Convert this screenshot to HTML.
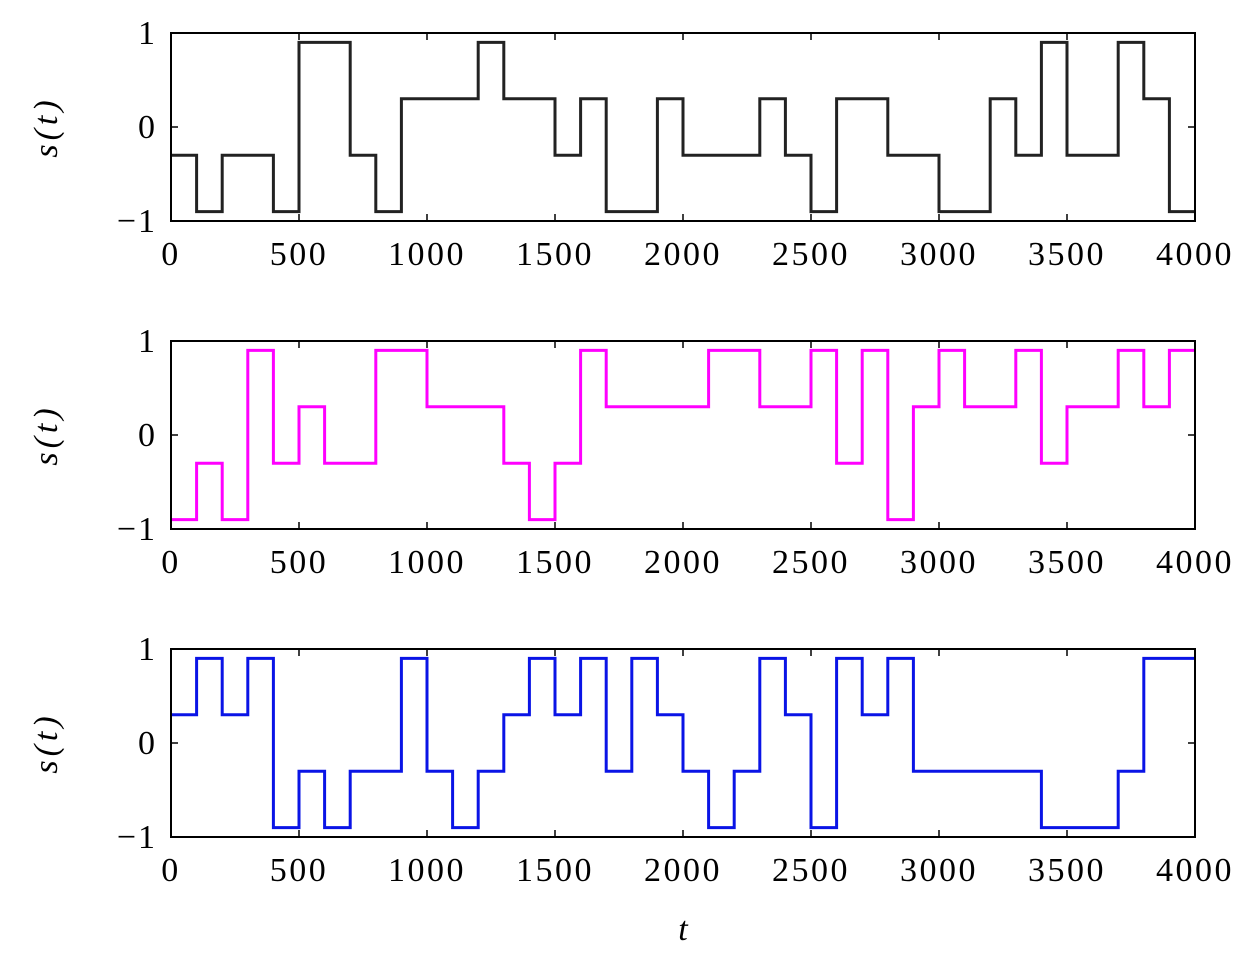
<!DOCTYPE html>
<html><head><meta charset="utf-8"><style>
body{margin:0;background:#fff}
svg{display:block}
text{font-family:"Liberation Serif",serif;font-size:34px;fill:#000}
</style></head><body>
<svg id="chart" width="1260" height="956" viewBox="0 0 1260 956" xmlns="http://www.w3.org/2000/svg"></svg>
<script>
const xTicks=[0,500,1000,1500,2000,2500,3000,3500,4000];
const yTicks=[-1,0,1];
const yTickLabels=["\u22121","0","1"];
const stepWidth=100;
const seriesBlack=[-0.3,-0.9,-0.3,-0.3,-0.9,0.9,0.9,-0.3,-0.9,0.3,0.3,0.3,0.9,0.3,0.3,-0.3,0.3,-0.9,-0.9,0.3,-0.3,-0.3,-0.3,0.3,-0.3,-0.9,0.3,0.3,-0.3,-0.3,-0.9,-0.9,0.3,-0.3,0.9,-0.3,-0.3,0.9,0.3,-0.9];
const seriesMagenta=[-0.9,-0.3,-0.9,0.9,-0.3,0.3,-0.3,-0.3,0.9,0.9,0.3,0.3,0.3,-0.3,-0.9,-0.3,0.9,0.3,0.3,0.3,0.3,0.9,0.9,0.3,0.3,0.9,-0.3,0.9,-0.9,0.3,0.9,0.3,0.3,0.9,-0.3,0.3,0.3,0.9,0.3,0.9];
const seriesBlue=[0.3,0.9,0.3,0.9,-0.9,-0.3,-0.9,-0.3,-0.3,0.9,-0.3,-0.9,-0.3,0.3,0.9,0.3,0.9,-0.3,0.9,0.3,-0.3,-0.9,-0.3,0.9,0.3,-0.9,0.9,0.3,0.9,-0.3,-0.3,-0.3,-0.3,-0.3,-0.9,-0.9,-0.9,-0.3,0.9,0.9];
const NS="http://www.w3.org/2000/svg";
const svg=document.getElementById('chart');
const X0=171,X1=1195,H=188;
const panels=[{top:33,data:seriesBlack,color:"#222",name:"top"},{top:341,data:seriesMagenta,color:"#ff00ff",name:"middle"},{top:649,data:seriesBlue,color:"#0a14e6",name:"bottom"}];
function mk(tag,attrs,parent){const e=document.createElementNS(NS,tag);for(const k in attrs)e.setAttribute(k,attrs[k]);(parent||svg).appendChild(e);return e;}
function xs(v){return X0+(v-0)/(4000-0)*(X1-X0);}
panels.forEach(p=>{
  const ys=v=>p.top+H-(v+1)/2*H;
  const g=mk('g',{});
  
  
  let d='';
  p.data.forEach((v,i)=>{const xa=xs(i*stepWidth),xb=xs((i+1)*stepWidth),y=ys(v);d+=(i===0?'M':'L')+xa+' '+y+' L'+xb+' '+y+' ';});
  const line=mk('path',{d:d,fill:'none',stroke:p.color,'stroke-width':3,'stroke-linejoin':'miter'},g);
  
  
  const frame=mk('rect',{x:X0,y:p.top,width:X1-X0,height:H,fill:'none',stroke:'#000','stroke-width':2},g);
  
  
  xTicks.forEach(t=>{
    const x=xs(t);
    mk('line',{x1:x,x2:x,y1:p.top+H,y2:p.top+H-7,stroke:'#000','stroke-width':1.5},g);
    mk('line',{x1:x,x2:x,y1:p.top,y2:p.top+7,stroke:'#000','stroke-width':1.5},g);
    const tx=mk('text',{x:x,y:p.top+H+44,'text-anchor':'middle','letter-spacing':'2.5'},g);tx.textContent=t;
    
    
  });
  yTicks.forEach((t,i)=>{
    const y=ys(t);
    mk('line',{x1:X0,x2:X0+7,y1:y,y2:y,stroke:'#000','stroke-width':1.5},g);
    mk('line',{x1:X1,x2:X1-7,y1:y,y2:y,stroke:'#000','stroke-width':1.5},g);
    const ty=mk('text',{x:157,y:y+11,'text-anchor':'end','letter-spacing':'2'},g);ty.textContent=yTickLabels[i];
    
    
  });
  const yl=mk('text',{x:0,y:0,'text-anchor':'middle','font-style':'italic','font-size':'36','letter-spacing':'4',transform:'translate(57,'+(p.top+H/2)+') rotate(-90)'},g);
  yl.textContent='s(t)';
  
  
});
const xl=mk('text',{x:683,y:940,'text-anchor':'middle','font-style':'italic','font-size':'36'});
xl.textContent='t';


</script>
</body></html>
